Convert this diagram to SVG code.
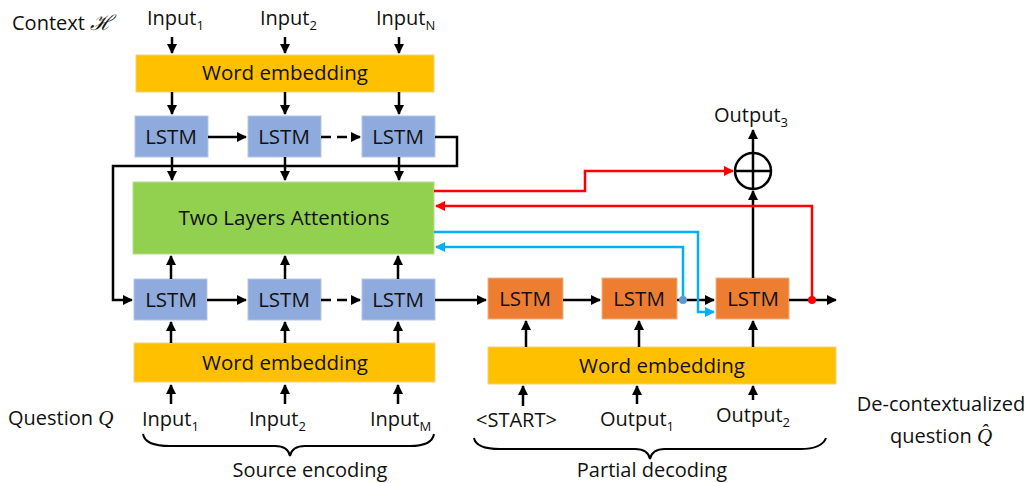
<svg xmlns="http://www.w3.org/2000/svg" width="1033" height="483" viewBox="0 0 1033 483">
<defs>
<marker id="ak" viewBox="0 0 10 10" refX="9" refY="5" markerWidth="4" markerHeight="4" orient="auto"><path d="M0,0 L10,5 L0,10 z" fill="#000"/></marker>
<marker id="ar" viewBox="0 0 10 10" refX="9" refY="5" markerWidth="4" markerHeight="4" orient="auto"><path d="M0,0 L10,5 L0,10 z" fill="#ff0000"/></marker>
<marker id="ab" viewBox="0 0 10 10" refX="9" refY="5" markerWidth="4" markerHeight="4" orient="auto"><path d="M0,0 L10,5 L0,10 z" fill="#00b0f0"/></marker>
<style>
text{font-family:"Open Sans","Liberation Sans",sans-serif;fill:#111}
.lbl{font-size:20px}
.box{font-size:20.5px;text-anchor:middle}
.sub{font-size:13px}
.emb{fill:#ffc000;stroke:#f2d27a;stroke-width:1}
.lstm{fill:#8faadc;stroke:#b4c7e7;stroke-width:1}
.olstm{fill:#ed7d31;stroke:#f4b183;stroke-width:1}
.k{stroke:#000;stroke-width:2.5;fill:none;marker-end:url(#ak)}
.r{stroke:#ff0000;stroke-width:2.5;fill:none;marker-end:url(#ar)}
.b{stroke:#00b0f0;stroke-width:2.5;fill:none;marker-end:url(#ab)}
.brace{stroke:#000;stroke-width:2;fill:none}
.math{font-family:"Liberation Serif",serif;font-style:italic}
</style>
</defs>
<rect width="1033" height="483" fill="#fff"/>

<g id="labels">
<text class="lbl" x="12" y="30">Context <tspan class="math" font-size="21">ℋ</tspan></text>
<text class="lbl" x="147" y="25">Input<tspan class="sub" dy="5">1</tspan></text>
<text class="lbl" x="260" y="25">Input<tspan class="sub" dy="5">2</tspan></text>
<text class="lbl" x="376" y="25">Input<tspan class="sub" dy="5">N</tspan></text>
<text class="lbl" x="8" y="425">Question <tspan class="math" font-size="21">Q</tspan></text>
<text class="lbl" x="142" y="426">Input<tspan class="sub" dy="5">1</tspan></text>
<text class="lbl" x="249" y="426">Input<tspan class="sub" dy="5">2</tspan></text>
<text class="lbl" x="370" y="426">Input<tspan class="sub" dy="5">M</tspan></text>
<text class="lbl" x="476" y="427">&lt;START&gt;</text>
<text class="lbl" x="600" y="426">Output<tspan class="sub" dy="5">1</tspan></text>
<text class="lbl" x="716" y="422">Output<tspan class="sub" dy="5">2</tspan></text>
<text class="lbl" x="714" y="122">Output<tspan class="sub" dy="5">3</tspan></text>
<text class="lbl" x="941" y="411" text-anchor="middle">De-contextualized</text>
<text class="lbl" x="941" y="443" text-anchor="middle">question <tspan class="math" font-size="21">Q̂</tspan></text>
<text class="lbl" x="310" y="477" text-anchor="middle">Source encoding</text>
<text class="lbl" x="652" y="477" text-anchor="middle">Partial decoding</text>
<path class="brace" d="M143,434 Q145,446 170,446 L275,446 Q288,446 290,456 Q292,446 305,446 L410,446 Q432,446 434,434"/>
<path class="brace" d="M474,438 Q476,449 500,449 L635,449 Q648,449 650,459 Q652,449 665,449 L800,449 Q822,449 826,438"/>
</g>

<g id="emb-top"><rect class="emb" x="136" y="55" width="298" height="37"/><text class="box" x="285" y="80">Word embedding</text></g>
<g id="lstm-t1"><rect class="lstm" x="135" y="116" width="73" height="41"/><text class="box" x="171" y="144">LSTM</text></g>
<g id="lstm-t2"><rect class="lstm" x="248" y="116" width="73" height="41"/><text class="box" x="284" y="144">LSTM</text></g>
<g id="lstm-t3"><rect class="lstm" x="362" y="116" width="73" height="41"/><text class="box" x="398" y="144">LSTM</text></g>
<g id="attention"><rect x="133" y="182" width="301" height="72" fill="#92d050" stroke="#b5de8a"/><text class="box" x="284" y="225">Two Layers Attentions</text></g>
<g id="lstm-b1"><rect class="lstm" x="134" y="279" width="73" height="41"/><text class="box" x="171" y="307">LSTM</text></g>
<g id="lstm-b2"><rect class="lstm" x="248" y="279" width="73" height="41"/><text class="box" x="284" y="307">LSTM</text></g>
<g id="lstm-b3"><rect class="lstm" x="362" y="279" width="73" height="41"/><text class="box" x="398" y="307">LSTM</text></g>
<g id="emb-bot"><rect class="emb" x="134" y="343" width="301" height="39"/><text class="box" x="285" y="370">Word embedding</text></g>
<g id="dec-1"><rect class="olstm" x="488" y="278" width="75" height="41"/><text class="box" x="525" y="306">LSTM</text></g>
<g id="dec-2"><rect class="olstm" x="602" y="278" width="75" height="41"/><text class="box" x="639" y="306">LSTM</text></g>
<g id="dec-3"><rect class="olstm" x="716" y="278" width="73" height="41"/><text class="box" x="753" y="306">LSTM</text></g>
<g id="emb-dec"><rect class="emb" x="488" y="347" width="348" height="37"/><text class="box" x="662" y="373">Word embedding</text></g>
<g id="oplus"><circle cx="753" cy="171" r="18" fill="#fff" stroke="#000" stroke-width="2.5"/><path d="M735,171 H771 M753,153 V189" stroke="#000" stroke-width="2.5"/></g>

<g id="connectors">
<path class="k" d="M172,37 V53"/><path class="k" d="M285,37 V53"/><path class="k" d="M399,37 V53"/>
<path class="k" d="M172,92 V114"/><path class="k" d="M285,92 V114"/><path class="k" d="M399,92 V114"/>
<path class="k" d="M172,157 V180"/><path class="k" d="M285,157 V180"/><path class="k" d="M399,157 V180"/>
<path class="k" d="M171,279 V256"/><path class="k" d="M285,279 V256"/><path class="k" d="M398,279 V256"/>
<path class="k" d="M171,343 V322"/><path class="k" d="M285,343 V322"/><path class="k" d="M398,343 V322"/>
<path class="k" d="M171,404 V385"/><path class="k" d="M285,404 V385"/><path class="k" d="M398,404 V385"/>
<path class="k" d="M523,406 V386"/><path class="k" d="M637,404 V386"/><path class="k" d="M753,400 V386"/>
<path class="k" d="M526,347 V321"/><path class="k" d="M639,347 V321"/><path class="k" d="M753,347 V321"/>
<path class="k" d="M208,137 H246"/><path class="k" d="M321,137 H360" stroke-dasharray="10,6"/>
<path class="k" d="M207,300 H246"/><path class="k" d="M321,300 H360" stroke-dasharray="10,6"/>
<path class="k" d="M435,137 H457 V166 H113 V300 H132"/>
<path class="k" d="M435,300 H486"/>
<path class="k" d="M563,300 H600"/>
<path class="k" d="M677,300 H714"/>
<path class="k" d="M789,300 H836"/>
<path class="k" d="M753,278 V191"/>
<path class="k" d="M753,153 V130"/>
<path class="r" d="M434,191 H585 V171 H733"/>
<path class="r" d="M812,300 V206 H436"/>
<path class="b" d="M434,232 H698 V312 H714"/>
<path class="b" d="M683,300 V247 H436"/>
<circle cx="812" cy="300" r="4" fill="#ff0000"/>
<circle cx="683" cy="300" r="4" fill="#5b9bd5"/>
</g>
</svg>
